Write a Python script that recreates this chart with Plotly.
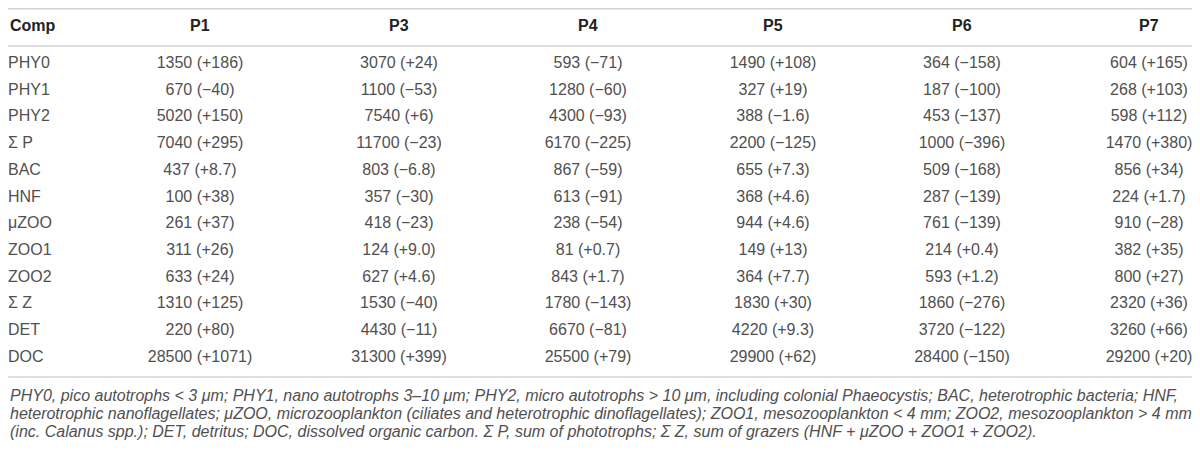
import plotly.graph_objects as go

comps = ["PHY0", "PHY1", "PHY2", "Σ P", "BAC", "HNF",
         "μZOO", "ZOO1", "ZOO2", "Σ Z", "DET", "DOC"]
stations = ["P1", "P3", "P4", "P5", "P6", "P7"]

# mean biomass per compartment and the change in brackets
p1_val = [1350, 670, 5020, 7040, 437, 100, 261, 311, 633, 1310, 220, 28500]
p1_chg = ["+186", "−40", "+150", "+295", "+8.7", "+38", "+37", "+26", "+24", "+125", "+80", "+1071"]
p3_val = [3070, 1100, 7540, 11700, 803, 357, 418, 124, 627, 1530, 4430, 31300]
p3_chg = ["+24", "−53", "+6", "−23", "−6.8", "−30", "−23", "+9.0", "+4.6", "−40", "−11", "+399"]
p4_val = [593, 1280, 4300, 6170, 867, 613, 238, 81, 843, 1780, 6670, 25500]
p4_chg = ["−71", "−60", "−93", "−225", "−59", "−91", "−54", "+0.7", "+1.7", "−143", "−81", "+79"]
p5_val = [1490, 327, 388, 2200, 655, 368, 944, 149, 364, 1830, 4220, 29900]
p5_chg = ["+108", "+19", "−1.6", "−125", "+7.3", "+4.6", "+4.6", "+13", "+7.7", "+30", "+9.3", "+62"]
p6_val = [364, 187, 453, 1000, 509, 287, 761, 214, 593, 1860, 3720, 28400]
p6_chg = ["−158", "−100", "−137", "−396", "−168", "−139", "−139", "+0.4", "+1.2", "−276", "−122", "−150"]
p7_val = [604, 268, 598, 1470, 856, 224, 910, 382, 800, 2320, 3260, 29200]
p7_chg = ["+165", "+103", "+112", "+380", "+34", "+1.7", "−28", "+35", "+27", "+36", "+66", "+20"]

footnote = [
    "PHY0, pico autotrophs &lt; 3 μm; PHY1, nano autotrophs 3–10 μm; PHY2, micro autotrophs &gt; 10 μm, "
    "including colonial Phaeocystis; BAC, heterotrophic bacteria; HNF,",
    "heterotrophic nanoflagellates; μZOO, microzooplankton (ciliates and heterotrophic dinoflagellates); "
    "ZOO1, mesozooplankton &lt; 4 mm; ZOO2, mesozooplankton &gt; 4 mm",
    "(inc. Calanus spp.); DET, detritus; DOC, dissolved organic carbon. Σ P, sum of phototrophs; "
    "Σ Z, sum of grazers (HNF + μZOO + ZOO1 + ZOO2).",
]

# page geometry: the html body keeps an 8px margin, so the figure is
# shrunk and all positions below are given in page pixels
PAGE_W, PAGE_H, PAD = 1200, 453, 8
W, H = PAGE_W - 2 * PAD, PAGE_H - 2 * PAD

FONT = "Liberation Sans"
COL_X = [200, 399, 588, 773, 962, 1149]
ROW0_Y, ROW_H = 64, 26.7
HEAD_Y = 26
RULES_Y = [8.8, 46, 377]
RULE_X1 = 1193
NOTE_Y = [395, 413, 431]


def py(y):
    """page pixel row -> paper coordinate"""
    return 1 - (y - PAD) / H


series = [(p1_val, p1_chg), (p3_val, p3_chg), (p4_val, p4_chg),
          (p5_val, p5_chg), (p6_val, p6_chg), (p7_val, p7_chg)]

body_font = dict(family=FONT, size=16, color="#505050")
head_font = dict(family=FONT, size=16, color="#222222")

fig = go.Figure()
fig.add_trace(go.Scatter(
    x=[PAD] * len(comps), y=comps, mode="text", text=comps,
    textposition="middle right", textfont=body_font, cliponaxis=False,
    hoverinfo="skip", showlegend=False,
))
for cx, (vals, chgs) in zip(COL_X, series):
    fig.add_trace(go.Scatter(
        x=[cx] * len(comps), y=comps, mode="text",
        text=[f"{v} ({c})" for v, c in zip(vals, chgs)],
        textposition="middle center", textfont=body_font, cliponaxis=False,
        hoverinfo="skip", showlegend=False,
    ))

# header row
for label, cx, anchor in zip(["Comp"] + stations, [PAD] + COL_X,
                             ["left"] + ["center"] * 6):
    fig.add_annotation(
        x=cx, xref="x", y=py(HEAD_Y), yref="paper",
        xanchor=anchor, yanchor="middle", showarrow=False,
        text=f"<b>{label}</b>", font=head_font,
    )

for y in RULES_Y:
    fig.add_shape(type="line", xref="x", yref="paper",
                  x0=PAD, x1=RULE_X1, y0=py(y), y1=py(y),
                  line=dict(color="#d4d4d4", width=1.5))

for line, y in zip(footnote, NOTE_Y):
    fig.add_annotation(
        x=PAD, xref="x", y=py(y), yref="paper",
        xanchor="left", yanchor="middle", align="left", showarrow=False,
        text=f"<i>{line}</i>",
        font=dict(family=FONT, size=16, color="#505050"),
    )

# category rows: row 0 sits at ROW0_Y, ROW_H page px per row
y_top = (PAD - ROW0_Y) / ROW_H
y_bot = (PAD + H - ROW0_Y) / ROW_H
fig.update_layout(
    width=W, height=H,
    margin=dict(l=0, r=0, t=0, b=0),
    paper_bgcolor="white", plot_bgcolor="white",
    xaxis=dict(range=[PAD, PAD + W], visible=False, fixedrange=True),
    yaxis=dict(type="category", categoryarray=comps, categoryorder="array",
               range=[y_bot, y_top], visible=False, fixedrange=True),
)
fig.write_html("out.html")
